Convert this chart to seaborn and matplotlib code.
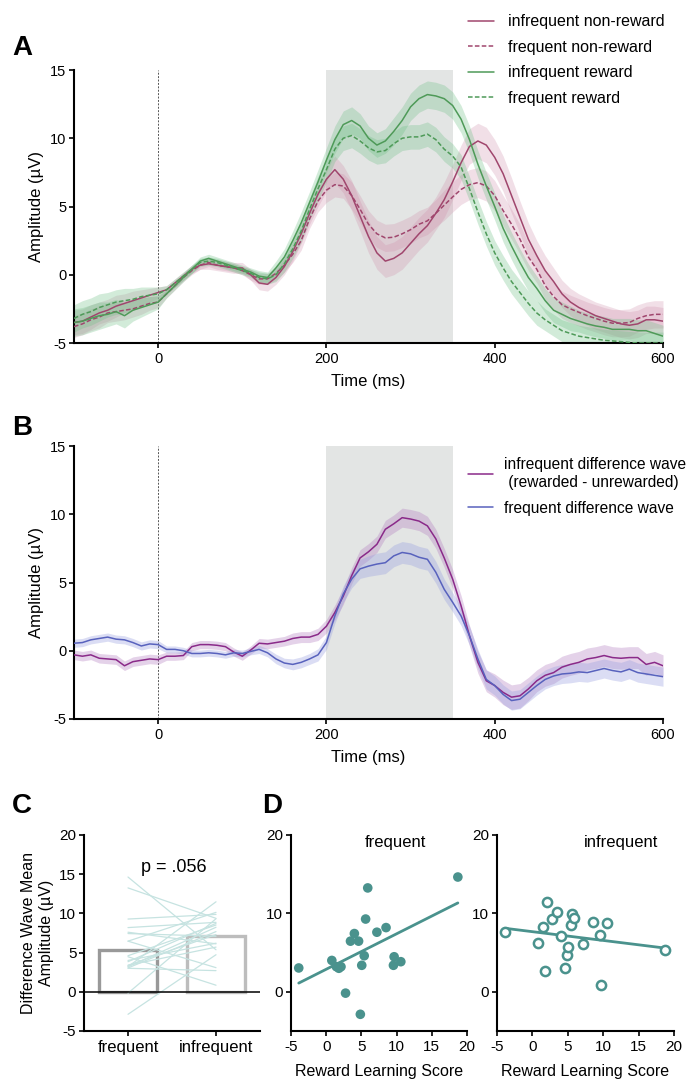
import numpy as np
import pandas as pd
import matplotlib
matplotlib.use("Agg")
import matplotlib.pyplot as plt
from matplotlib.lines import Line2D
import seaborn as sns

# ---------------- data ----------------
times = np.arange(-100, 601, 10)

# Panel A: grand-average ERPs (µV)
inf_nonrew = [-3.5, -3.4, -3.1, -2.8, -2.6, -2.3, -2.1, -1.9, -1.7, -1.5, -1.3,
              -1.1, -0.6, -0.1, 0.4, 0.7, 0.8, 0.7, 0.6, 0.5, 0.5, 0.0, -0.6, -0.7,
              -0.2, 0.6, 1.7, 3.0, 4.5, 5.9, 7.0,
              7.7, 7.0, 5.8, 4.3, 2.8, 1.6, 1.0, 1.2, 1.6, 2.3,
              3.0, 3.6, 4.5, 5.5, 6.8, 8.2, 9.4, 9.8, 9.5, 8.6,
              7.4, 5.8, 4.2, 2.6, 1.4, 0.3, -0.5, -1.4, -2.0, -2.4,
              -2.7, -3.0, -3.2, -3.4, -3.6, -3.7, -3.6, -3.3, -3.3, -3.4]
freq_nonrew = [-3.8, -3.6, -3.3, -3.1, -2.8, -2.7, -2.6, -2.5, -2.3, -2.1, -2.0,
               -1.4, -0.8, -0.2, 0.3, 0.7, 0.9, 0.7, 0.6, 0.5, 0.3, 0.0, -0.3, -0.3,
               0.1, 0.7, 1.5, 2.5, 4.1, 5.4, 6.2,
               6.6, 6.5, 5.8, 4.8, 3.7, 3.0, 2.7, 2.75, 3.0, 3.3,
               3.7, 3.95, 4.5, 5.1, 5.7, 6.25, 6.6, 6.75, 6.5, 5.8,
               4.7, 3.7, 2.6, 1.3, 0.4, -0.8, -1.6, -2.2, -2.5, -2.75,
               -3.0, -3.2, -3.4, -3.55, -3.55, -3.5, -3.2, -3.0, -2.9, -2.9]
inf_rew = [-3.5, -3.4, -3.2, -3.0, -2.9, -2.7, -3.0, -2.6, -2.4, -2.2, -2.0,
           -1.4, -0.8, -0.2, 0.4, 1.0, 1.2, 1.0, 0.8, 0.6, 0.4, 0.2, -0.1, -0.2,
           0.5, 1.3, 2.5, 3.8, 5.3, 6.8, 8.4,
           9.9, 11.0, 11.3, 10.9, 10.0, 9.5, 9.8, 10.5, 11.3, 12.3,
           12.9, 13.2, 13.1, 12.9, 12.4, 11.4, 9.9, 8.1, 6.5, 5.0,
           3.4, 2.1, 0.9, -0.2, -1.0, -1.9, -2.6, -2.9, -3.2, -3.4,
           -3.6, -3.75, -3.85, -4.0, -4.0, -4.0, -4.1, -4.1, -4.3, -4.5]
freq_rew = [-3.2, -2.9, -2.7, -2.4, -2.2, -2.0, -1.9, -1.8, -1.6, -1.5, -1.4,
            -1.1, -0.6, -0.1, 0.4, 0.9, 1.0, 0.9, 0.7, 0.5, 0.3, 0.1, -0.2, -0.3,
            0.0, 0.8, 1.9, 3.2, 4.8, 6.3, 7.7,
            9.2, 10.0, 10.2, 9.8, 9.3, 9.0, 9.1, 9.6, 10.0, 10.1,
            10.1, 10.3, 9.9, 9.2, 8.7, 7.9, 6.3, 4.6, 3.0, 1.6,
            0.5, -0.5, -1.3, -2.1, -2.8, -3.3, -3.7, -4.1, -4.3, -4.5,
            -4.6, -4.7, -4.8, -4.85, -4.9, -4.95, -5.0, -5.0, -5.0, -5.0]

se_inf_nonrew = [0.9, 0.9, 0.9, 0.8, 0.8, 0.8, 0.7, 0.7, 0.6, 0.5, 0.4,
                 0.3, 0.3, 0.3, 0.3, 0.3, 0.4, 0.4, 0.4, 0.4, 0.4, 0.4, 0.5, 0.5,
                 0.5, 0.6, 0.7, 0.7, 0.8, 0.9, 0.9,
                 1.0, 1.0, 1.1, 1.1, 1.2, 1.2, 1.2, 1.2, 1.2, 1.2,
                 1.2, 1.2, 1.2, 1.3, 1.3, 1.3, 1.3, 1.3, 1.3, 1.3,
                 1.3, 1.3, 1.2, 1.2, 1.1, 1.1, 1.0, 1.0, 1.0, 1.0,
                 1.0, 1.0, 1.0, 1.0, 1.0, 1.0, 1.0, 1.0, 1.0, 1.0]
se_freq_nonrew = [0.8, 0.8, 0.8, 0.8, 0.7, 0.7, 0.7, 0.6, 0.6, 0.5, 0.4,
                  0.3, 0.3, 0.3, 0.3, 0.3, 0.3, 0.3, 0.3, 0.3, 0.3, 0.4, 0.4, 0.4,
                  0.5, 0.5, 0.6, 0.7, 0.7, 0.8, 0.9,
                  0.9, 0.9, 1.0, 1.0, 1.0, 1.0, 1.0, 1.0, 1.0, 1.0,
                  1.0, 1.0, 1.0, 1.1, 1.1, 1.1, 1.1, 1.1, 1.1, 1.1,
                  1.1, 1.1, 1.1, 1.0, 1.0, 1.0, 1.0, 1.0, 1.0, 1.0,
                  1.0, 1.0, 1.0, 1.0, 1.0, 1.0, 1.0, 1.0, 1.0, 1.0]
se_inf_rew = [1.0, 1.0, 1.0, 1.0, 0.9, 0.9, 0.9, 0.8, 0.7, 0.6, 0.5,
              0.3, 0.3, 0.3, 0.3, 0.3, 0.3, 0.3, 0.3, 0.3, 0.3, 0.3, 0.4, 0.4,
              0.5, 0.6, 0.7, 0.8, 0.8, 0.9, 0.9,
              1.0, 1.0, 1.0, 0.9, 0.9, 0.9, 0.9, 1.0, 1.0, 1.0,
              1.0, 1.0, 1.0, 1.0, 1.0, 1.0, 1.0, 1.0, 1.0, 1.0,
              1.0, 1.0, 1.0, 1.0, 0.9, 0.9, 0.9, 0.9, 0.9, 0.8,
              0.8, 0.8, 0.8, 0.8, 0.8, 0.8, 0.8, 0.8, 0.8, 0.8]
se_freq_rew = [1.0, 1.0, 1.0, 1.0, 0.9, 0.9, 0.9, 0.8, 0.7, 0.6, 0.5,
               0.3, 0.3, 0.3, 0.3, 0.3, 0.3, 0.3, 0.3, 0.3, 0.3, 0.3, 0.4, 0.4,
               0.5, 0.6, 0.7, 0.8, 0.8, 0.9, 0.9,
               0.9, 0.9, 0.9, 0.9, 0.9, 0.9, 0.9, 0.9, 0.9, 0.9,
               0.9, 0.9, 0.9, 0.9, 0.9, 0.9, 0.9, 0.9, 0.9, 0.9,
               0.9, 0.9, 0.9, 0.9, 0.9, 0.8, 0.8, 0.8, 0.8, 0.8,
               0.8, 0.8, 0.8, 0.8, 0.8, 0.8, 0.8, 0.8, 0.8, 0.8]

# Panel B: difference waves (rewarded - unrewarded)
inf_diff = [-0.3, -0.4, -0.3, -0.55, -0.6, -0.65, -1.1, -0.8, -0.7, -0.6, -0.65,
            -0.4, -0.4, -0.35, 0.3, 0.45, 0.45, 0.4, 0.3, -0.1, -0.4, 0.05, 0.55, 0.5,
            0.6, 0.7, 0.9, 1.0, 1.0, 1.2, 1.8,
            2.8, 4.0, 5.5, 6.8, 7.25, 7.8, 8.9, 9.3, 9.75, 9.65,
            9.5, 9.15, 8.2, 6.8, 5.25, 3.3, 1.1, -0.85, -2.2, -2.55,
            -3.05, -3.4, -3.3, -2.8, -2.2, -1.8, -1.6, -1.2, -1.0, -0.85,
            -0.6, -0.5, -0.35, -0.5, -0.55, -0.5, -0.5, -1.0, -0.85, -1.1]
freq_diff = [0.55, 0.6, 0.8, 0.9, 1.0, 0.85, 0.8, 0.6, 0.35, 0.5, 0.45,
             0.1, 0.1, 0.0, -0.2, -0.2, -0.15, -0.2, -0.3, -0.15, -0.2, -0.05, 0.1, -0.15,
             -0.6, -0.9, -1.0, -0.85, -0.6, -0.3, 0.6,
             2.55, 4.15, 5.25, 6.0, 6.2, 6.35, 6.45, 6.95, 7.2, 7.1,
             6.85, 6.7, 5.75, 4.5, 3.55, 2.55, 1.1, -0.6, -2.1, -2.55,
             -3.2, -3.65, -3.55, -3.05, -2.55, -2.1, -1.85, -1.7, -1.65, -1.55,
             -1.6, -1.45, -1.3, -1.45, -1.55, -1.35, -1.6, -1.7, -1.8, -1.9]
se_inf_diff = [0.35, 0.35, 0.35, 0.35, 0.35, 0.35, 0.35, 0.35, 0.35, 0.35, 0.35,
               0.3, 0.3, 0.3, 0.3, 0.3, 0.3, 0.3, 0.3, 0.3, 0.3, 0.3, 0.35, 0.35,
               0.35, 0.35, 0.4, 0.4, 0.4, 0.45, 0.5,
               0.55, 0.6, 0.6, 0.6, 0.6, 0.6, 0.65, 0.65, 0.7, 0.7,
               0.7, 0.7, 0.7, 0.7, 0.7, 0.75, 0.75, 0.8, 0.8, 0.85,
               0.9, 0.9, 0.9, 0.85, 0.8, 0.8, 0.8, 0.8, 0.8, 0.8,
               0.8, 0.8, 0.8, 0.8, 0.8, 0.8, 0.8, 0.8, 0.8, 0.8]
se_freq_diff = [0.3, 0.3, 0.3, 0.3, 0.3, 0.3, 0.3, 0.3, 0.3, 0.3, 0.3,
                0.25, 0.25, 0.25, 0.25, 0.25, 0.25, 0.25, 0.25, 0.25, 0.25, 0.25, 0.3, 0.3,
                0.35, 0.35, 0.4, 0.4, 0.4, 0.45, 0.5,
                0.55, 0.6, 0.65, 0.7, 0.75, 0.8, 0.8, 0.8, 0.8, 0.8,
                0.8, 0.8, 0.8, 0.75, 0.7, 0.7, 0.7, 0.7, 0.7, 0.7,
                0.7, 0.7, 0.7, 0.7, 0.7, 0.7, 0.7, 0.7, 0.7, 0.7,
                0.7, 0.7, 0.7, 0.7, 0.7, 0.7, 0.7, 0.7, 0.7, 0.7]

# Panels C/D: per-subject data
reward_learning = [-3.9, 0.8, 1.45, 1.8, 2.1, 2.75, 3.45, 4.0, 4.6, 4.85,
                   5.05, 5.4, 5.6, 5.9, 7.2, 8.5, 9.55, 9.65, 10.6, 18.7]
freq_amp = [3.04, 4.0, 3.2, 3.0, 3.2, -0.17, 6.46, 7.43, 6.46, -2.87,
            3.38, 4.6, 9.28, 13.25, 7.6, 8.19, 3.38, 4.47, 3.84, 14.64]
infreq_amp = [7.68, 6.2, 8.23, 2.7, 11.48, 9.32, 10.13, 7.09, 3.08, 4.73,
              5.7, 8.52, 9.87, 9.37, 6.12, 8.86, 7.3, 0.84, 8.73, 5.36]
conditions = ["frequent", "infrequent"]
p_text = "p = .056"

# ---------------- style ----------------
sns.set_theme(style="ticks")
plt.rcParams["font.family"] = ["Liberation Sans", "DejaVu Sans"]
plt.rcParams["axes.unicode_minus"] = False
plt.rcParams["axes.edgecolor"] = "black"
plt.rcParams["xtick.color"] = "black"
plt.rcParams["ytick.color"] = "black"
plt.rcParams["text.color"] = "black"
plt.rcParams["axes.labelcolor"] = "black"
plt.rcParams["axes.linewidth"] = 1.5
plt.rcParams["xtick.major.width"] = 1.2
plt.rcParams["ytick.major.width"] = 1.2
plt.rcParams["xtick.major.size"] = 3.5
plt.rcParams["ytick.major.size"] = 3.5
plt.rcParams["xtick.major.pad"] = 3
plt.rcParams["ytick.major.pad"] = 2

PINK = "#a0466d"
PINK_F = "#cf8eaa"
GREEN = "#4e9a58"
GREEN_F = "#6cbf84"
PURPLE = "#8a2a89"
PURPLE_F = "#b47fc0"
BLUE = "#5862bd"
BLUE_F = "#98a0e0"
TEAL = "#4a928d"
TEAL_L = "#c6e3e1"
SHADE = "#e3e5e4"

W, H = 686, 1080
fig = plt.figure(figsize=(W / 100, H / 100), dpi=100)


def rect(l, t, r, b):
    return [l / W, 1 - b / H, (r - l) / W, (b - t) / H]


axA = fig.add_axes(rect(74, 70, 663, 343))
axB = fig.add_axes(rect(74, 446, 663, 719))
axC = fig.add_axes(rect(84, 835, 260, 1031))
axD1 = fig.add_axes(rect(291, 835, 467, 1031))
axD2 = fig.add_axes(rect(497, 835, 674, 1031))


def erp_axes(ax):
    ax.axvspan(200, 350, color=SHADE, zorder=0, lw=0)
    ax.axvline(0, color="#555555", lw=0.7, ls=(0, (2, 1.5)), zorder=1)
    ax.set_xlim(-100, 600)
    ax.set_ylim(-5, 15)
    ax.set_xticks([0, 200, 400, 600])
    ax.set_yticks([-5, 0, 5, 10, 15])
    ax.tick_params(labelsize=10.5)
    ax.set_xlabel("Time (ms)", fontsize=12, labelpad=6)
    ax.set_ylabel("Amplitude (µV)", fontsize=12, labelpad=4)
    sns.despine(ax=ax)


def wave(ax, y, se, color, fcolor, ls, alpha):
    y = np.asarray(y)
    se = np.asarray(se)
    ax.fill_between(times, y - se, y + se, color=fcolor, alpha=alpha, lw=0, zorder=2)
    sns.lineplot(x=times, y=y, ax=ax, color=color, lw=1.1, linestyle=ls, zorder=3)


# ---- Panel A ----
erp_axes(axA)
wave(axA, inf_nonrew, se_inf_nonrew, PINK, PINK_F, "-", 0.28)
wave(axA, freq_nonrew, se_freq_nonrew, PINK, PINK_F, (0, (3, 1.5)), 0.28)
wave(axA, inf_rew, se_inf_rew, GREEN, GREEN_F, "-", 0.3)
wave(axA, freq_rew, se_freq_rew, GREEN, GREEN_F, (0, (3, 1.5)), 0.3)
handlesA = [Line2D([], [], color=PINK, lw=1.1),
            Line2D([], [], color=PINK, lw=1.1, ls=(0, (3, 1.5))),
            Line2D([], [], color=GREEN, lw=1.1),
            Line2D([], [], color=GREEN, lw=1.1, ls=(0, (3, 1.5)))]
labelsA = ["infrequent non-reward", "frequent non-reward",
           "infrequent reward", "frequent reward"]
fig.legend(handlesA, labelsA, loc="upper left", bbox_to_anchor=(462 / W, 1 - 8 / H),
           frameon=False, fontsize=11.5, handlelength=1.6, handletextpad=0.9,
           labelspacing=0.66, borderaxespad=0)

# ---- Panel B ----
erp_axes(axB)
wave(axB, inf_diff, se_inf_diff, PURPLE, PURPLE_F, "-", 0.35)
wave(axB, freq_diff, se_freq_diff, BLUE, BLUE_F, "-", 0.35)
handlesB = [Line2D([], [], color=PURPLE, lw=1.1), Line2D([], [], color=BLUE, lw=1.1)]
labelsB = ["infrequent difference wave\n (rewarded - unrewarded)", "frequent difference wave"]
fig.legend(handlesB, labelsB, loc="upper left", bbox_to_anchor=(462 / W, 1 - 451 / H),
           frameon=False, fontsize=11.2, handlelength=1.6, handletextpad=0.7,
           labelspacing=0.7, borderaxespad=0)

# ---- Panel C ----
n = len(freq_amp)
dfC = pd.DataFrame({
    "cond": ["frequent"] * n + ["infrequent"] * n,
    "pos": [0] * n + [1] * n,
    "amp": freq_amp + infreq_amp,
    "subj": list(range(n)) * 2,
})
sns.barplot(data=dfC, x="cond", y="amp", order=conditions, errorbar=None,
            fill=False, width=0.67, ax=axC, zorder=2)
for p, ec in zip(axC.patches, ["#999999", "#bdbdbd"]):
    p.set_edgecolor(ec)
    p.set_linewidth(2.4)
    p.set_facecolor("none")
sns.lineplot(data=dfC, x="pos", y="amp", units="subj", estimator=None, ax=axC,
             color=TEAL_L, lw=0.9, zorder=3, legend=False)
axC.axhline(0, color="black", lw=1.1, zorder=4)
axC.set_xlim(-0.5, 1.5)
axC.set_ylim(-5, 20)
axC.set_xticks([0, 1])
axC.set_xticklabels(conditions, fontsize=12)
axC.set_yticks([-5, 0, 5, 10, 15, 20])
axC.tick_params(axis="y", labelsize=11)
axC.set_xlabel("")
axC.set_ylabel("Difference Wave Mean\nAmplitude (µV)", fontsize=11.5, labelpad=4)
axC.text(0.52, 15.9, p_text, ha="center", va="center", fontsize=13)
sns.despine(ax=axC)

# ---- Panel D ----
for ax, yvals, title, tx, filled in [(axD1, freq_amp, "frequent", 9.9, True),
                                     (axD2, infreq_amp, "infrequent", 12.5, False)]:
    dfD = pd.DataFrame({"score": reward_learning, "amp": yvals})
    if filled:
        sns.scatterplot(data=dfD, x="score", y="amp", ax=ax, color=TEAL, s=48,
                        edgecolor="none", zorder=3)
    else:
        sns.scatterplot(data=dfD, x="score", y="amp", ax=ax, facecolor="white",
                        edgecolor=TEAL, linewidth=1.8, s=44, zorder=3)
    sns.regplot(data=dfD, x="score", y="amp", ax=ax, scatter=False, ci=None,
                color=TEAL, line_kws={"lw": 2.0, "zorder": 2})
    ax.set_xlim(-5, 20)
    ax.set_ylim(-5, 20)
    ax.set_xticks([-5, 0, 5, 10, 15, 20])
    ax.set_yticks([0, 10, 20])
    ax.tick_params(labelsize=11)
    ax.set_xlabel("Reward Learning Score", fontsize=11.5, labelpad=7)
    ax.set_ylabel("")
    ax.text(tx, 19.0, title, ha="center", va="center", fontsize=12)
    sns.despine(ax=ax)

# panel letters
for letter, x, y in [("A", 12, 48), ("B", 12, 428), ("C", 12, 806), ("D", 262, 806)]:
    fig.text(x / W, 1 - y / H, letter, fontsize=20, fontweight="bold",
             ha="left", va="center")

fig.savefig("out.png", dpi=100)
